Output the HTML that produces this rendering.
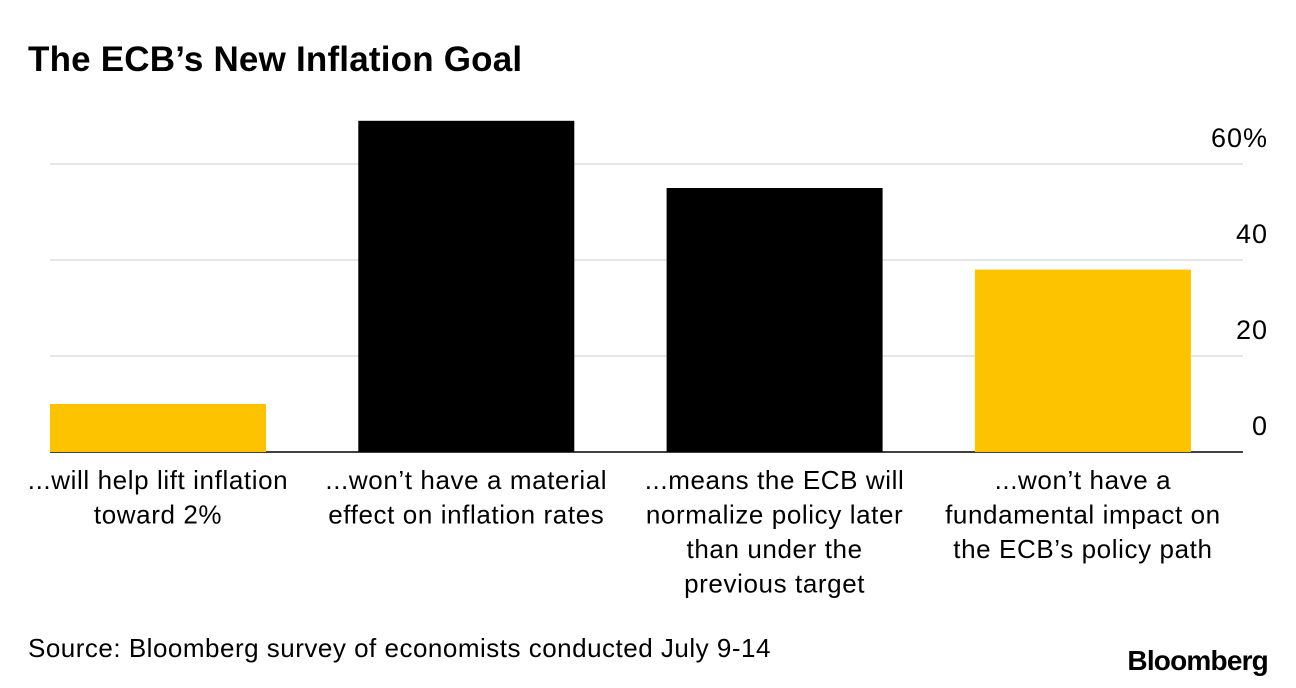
<!DOCTYPE html>
<html><head><meta charset="utf-8"><style>
html,body{margin:0;padding:0;background:#fff;}
body{width:1296px;height:688px;position:relative;overflow:hidden;font-family:"Liberation Sans",sans-serif;color:#000;}
#title{position:absolute;left:28px;top:40px;font-size:35px;font-weight:bold;letter-spacing:0.2px;}
#source{position:absolute;left:28px;top:633px;font-size:26px;letter-spacing:0.5px;}
#logo{position:absolute;right:28px;top:645px;font-size:28px;font-weight:bold;letter-spacing:-0.8px;}
svg{position:absolute;left:0;top:0;}
</style></head><body>
<div id="title">The ECB’s New Inflation Goal</div>
<svg id="chart" width="1296" height="688"></svg>
<div id="source">Source: Bloomberg survey of economists conducted July 9-14</div>
<div id="logo">Bloomberg</div>
<script>
const categories=[["...will help lift inflation","toward 2%"],["...won’t have a material","effect on inflation rates"],["...means the ECB will","normalize policy later","than under the","previous target"],["...won’t have a","fundamental impact on","the ECB’s policy path"]];
const values=[10,69,55,38];
const colors=["#FDC300","#000000","#000000","#FDC300"];
const ticks=[0,20,40,60];
const tickLabels=["0","20","40","60%"];
const NS="http://www.w3.org/2000/svg";
const svg=document.getElementById('chart');
const y=v=>452-v*4.8;
const x0=50,step=308.3,bw=216;
function mk(t,a){const e=document.createElementNS(NS,t);for(const k in a)e.setAttribute(k,a[k]);svg.appendChild(e);return e;}
ticks.forEach((t,i)=>{
 const l=mk('line',{x1:50,x2:1243,y1:y(t),y2:y(t),stroke:t===0?'#000':'#ddd','stroke-width':1.5});
 
 
 const tx=mk('text',{x:1268,y:y(t)-17,'text-anchor':'end','font-size':27,'letter-spacing':1,'font-family':'Liberation Sans, sans-serif'});
 tx.textContent=tickLabels[i];
 
 
});
values.forEach((v,i)=>{
 const bx=x0+i*step;
 const r=mk('rect',{x:bx,y:y(v),width:bw,height:y(0)-y(v),fill:colors[i]});
 
 
 categories[i].forEach((ln,j)=>{
  const t=mk('text',{x:bx+bw/2,y:489+j*34.5,'text-anchor':'middle','font-size':26,'letter-spacing':0.6,'font-family':'Liberation Sans, sans-serif'});
  t.textContent=ln;
  
  
 });
});
</script>
</body></html>
